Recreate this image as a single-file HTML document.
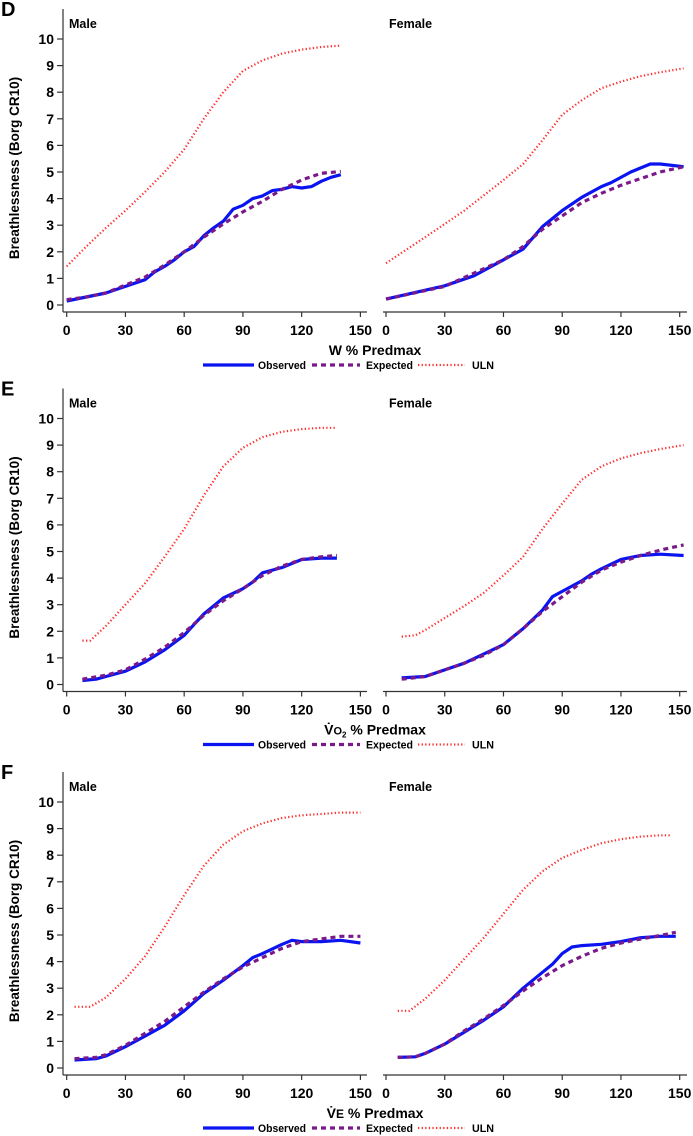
<!DOCTYPE html>
<html><head><meta charset="utf-8">
<style>
html,body{margin:0;padding:0;background:#fff;}
svg{display:block;font-family:"Liberation Sans",Arial,sans-serif;font-weight:bold;}
</style></head>
<body>
<svg id="chart" width="693" height="1136" viewBox="0 0 693 1136"></svg>
<script>
// ---- Data ----
const xTicks = [0, 30, 60, 90, 120, 150];
const yTicks = [0,1,2,3,4,5,6,7,8,9,10];
const panelLetters = ["D", "E", "F"];
const xTitles = ["W % Predmax", "VO2 % Predmax", "VE % Predmax"];
const sexLabels = ["Male", "Female"];

// D Male (W)
const dMaleObsX = [0,10,20,30,40,45,50,55,60,65,70,75,80,85,90,95,100,105,110,115,120,125,130,135,140];
const dMaleObsY = [0.15,0.3,0.45,0.7,0.95,1.25,1.45,1.7,2.0,2.2,2.6,2.9,3.15,3.6,3.75,4.0,4.1,4.3,4.35,4.45,4.4,4.45,4.65,4.8,4.9];
const dMaleExpX = [0,10,20,30,40,50,60,70,80,90,100,110,120,130,140];
const dMaleExpY = [0.2,0.3,0.45,0.75,1.05,1.5,2.0,2.55,3.05,3.5,3.9,4.35,4.7,4.95,5.02];
const dMaleUlnX = [0,10,20,30,40,50,60,70,80,90,100,110,120,130,140];
const dMaleUlnY = [1.45,2.2,2.9,3.55,4.25,5.0,5.85,7.0,8.0,8.8,9.2,9.45,9.6,9.7,9.75];
// D Female
const dFemObsX = [0,30,45,60,70,80,90,100,110,115,125,135,140,152];
const dFemObsY = [0.22,0.72,1.1,1.7,2.1,2.95,3.55,4.05,4.45,4.6,5.0,5.3,5.3,5.2];
const dFemExpX = [0,30,60,70,80,90,100,110,120,130,140,152];
const dFemExpY = [0.22,0.7,1.7,2.2,2.85,3.35,3.85,4.2,4.5,4.75,5.0,5.2];
const dFemUlnX = [0,20,40,60,70,80,90,100,110,120,130,140,152];
const dFemUlnY = [1.57,2.55,3.55,4.7,5.3,6.2,7.15,7.7,8.15,8.4,8.6,8.75,8.9];
// E Male (VO2)
const eMaleObsX = [8,15,20,30,40,50,60,65,70,80,90,95,100,110,120,130,138];
const eMaleObsY = [0.15,0.2,0.3,0.5,0.85,1.3,1.85,2.25,2.65,3.25,3.6,3.85,4.2,4.4,4.7,4.75,4.75];
const eMaleExpX = [8,20,30,40,50,60,70,80,90,100,110,120,130,138];
const eMaleExpY = [0.2,0.35,0.55,0.95,1.4,1.95,2.6,3.15,3.6,4.1,4.45,4.7,4.8,4.85];
const eMaleUlnX = [8,12,20,30,40,50,60,70,80,90,100,110,120,130,138];
const eMaleUlnY = [1.65,1.65,2.2,3.0,3.8,4.8,5.85,7.1,8.2,8.9,9.3,9.5,9.6,9.65,9.65];
// E Female
const eFemObsX = [8,20,30,40,50,60,70,80,85,90,95,100,105,110,120,130,140,152];
const eFemObsY = [0.25,0.3,0.55,0.8,1.15,1.5,2.1,2.8,3.3,3.5,3.7,3.9,4.15,4.35,4.7,4.85,4.9,4.85];
const eFemExpX = [8,20,30,40,50,60,70,80,90,100,110,120,130,140,152];
const eFemExpY = [0.2,0.3,0.55,0.8,1.1,1.5,2.1,2.75,3.3,3.85,4.3,4.6,4.85,5.05,5.25];
const eFemUlnX = [8,15,20,30,40,50,60,70,80,90,100,110,120,130,140,152];
const eFemUlnY = [1.8,1.85,2.05,2.5,2.95,3.45,4.1,4.8,5.85,6.8,7.7,8.2,8.5,8.7,8.85,9.0];
// F Male (VE)
const fMaleObsX = [4,15,20,30,40,50,60,70,80,90,95,100,110,115,120,130,140,150];
const fMaleObsY = [0.3,0.35,0.45,0.8,1.2,1.6,2.15,2.8,3.3,3.85,4.15,4.3,4.65,4.8,4.75,4.75,4.8,4.7];
const fMaleExpX = [4,15,20,30,40,50,60,70,80,90,100,110,120,130,140,150];
const fMaleExpY = [0.35,0.4,0.5,0.85,1.3,1.75,2.3,2.85,3.35,3.8,4.15,4.5,4.75,4.85,4.95,4.95];
const fMaleUlnX = [4,12,20,30,40,50,60,70,80,90,100,110,120,130,140,150];
const fMaleUlnY = [2.3,2.3,2.65,3.35,4.2,5.3,6.5,7.6,8.4,8.9,9.2,9.4,9.5,9.55,9.6,9.6];
// F Female
const fFemObsX = [6,15,20,30,40,50,60,70,80,85,90,95,100,110,120,130,140,148];
const fFemObsY = [0.4,0.42,0.55,0.9,1.35,1.8,2.3,3.0,3.6,3.9,4.3,4.55,4.6,4.65,4.75,4.9,4.95,4.95];
const fFemExpX = [6,15,20,30,40,50,60,70,80,90,100,110,120,130,140,148];
const fFemExpY = [0.4,0.42,0.55,0.9,1.4,1.85,2.35,2.9,3.4,3.85,4.2,4.5,4.7,4.85,4.98,5.1];
const fFemUlnX = [6,12,20,30,40,50,60,70,80,90,100,110,120,130,140,146];
const fFemUlnY = [2.15,2.15,2.6,3.3,4.1,4.9,5.8,6.7,7.4,7.9,8.2,8.45,8.6,8.7,8.75,8.75];

const series = [
  [[dMaleObsX,dMaleObsY,dMaleExpX,dMaleExpY,dMaleUlnX,dMaleUlnY],[dFemObsX,dFemObsY,dFemExpX,dFemExpY,dFemUlnX,dFemUlnY]],
  [[eMaleObsX,eMaleObsY,eMaleExpX,eMaleExpY,eMaleUlnX,eMaleUlnY],[eFemObsX,eFemObsY,eFemExpX,eFemExpY,eFemUlnX,eFemUlnY]],
  [[fMaleObsX,fMaleObsY,fMaleExpX,fMaleExpY,fMaleUlnX,fMaleUlnY],[fFemObsX,fFemObsY,fFemExpX,fFemExpY,fFemUlnX,fFemUlnY]]
];

// ---- Layout ----
const NS = "http://www.w3.org/2000/svg";
const svg = document.getElementById("chart");
const groupY0 = [305, 684.5, 1068];
const unitY = 26.6;
const panelX0 = [66.7, 386];
const unitX = 1.958;
const axisEnds = [[58, 367], [383, 687]];

function mk(tag, attrs, parent) {
  const e = document.createElementNS(NS, tag);
  for (const k in attrs) e.setAttribute(k, attrs[k]);
  (parent || svg).appendChild(e);
  return e;
}
function txt(s, attrs, parent) { const t = mk("text", attrs, parent); t.textContent = s; return t; }

groupY0.forEach((y0, gi) => {
  const g = mk("g", {});
  
  
  const yS = v => y0 - v * unitY;
  const axY = y0 + 7;
  const y10 = yS(10);

  const letter = txt(panelLetters[gi], {x: 1, y: y10 - 23, "font-size": 20}, g);
  
  

  const ya = mk("line", {x1: 63, y1: y10 - 30, x2: 63, y2: axY, stroke: "#333", "stroke-width": 1.2}, g);
  
  
  yTicks.forEach(v => {
    mk("line", {x1: 57, y1: yS(v), x2: 63, y2: yS(v), stroke: "#333", "stroke-width": 1.2}, g);
    const t = txt(String(v), {x: 54, y: yS(v) + 5, "text-anchor": "end", "font-size": 14}, g);
    
    
  });
  const yt = txt("Breathlessness (Borg CR10)", {x: 0, y: 0, "text-anchor": "middle", "font-size": 13.5,
    transform: `translate(19,${(y10 + y0) / 2 - 4}) rotate(-90)`}, g);
  
  

  [0, 1].forEach(pi => {
    const x0 = panelX0[pi];
    const xS = v => x0 + v * unitX;
    const xa = mk("line", {x1: axisEnds[pi][0] + (pi ? 0 : 5), y1: axY, x2: axisEnds[pi][1], y2: axY, stroke: "#333", "stroke-width": 1.2}, g);
    
    
    xTicks.forEach(v => {
      mk("line", {x1: xS(v), y1: axY, x2: xS(v), y2: axY + 5, stroke: "#333", "stroke-width": 1.2}, g);
      const t = txt(String(v), {x: xS(v), y: axY + 23, "text-anchor": "middle", "font-size": 14}, g);
      
      
    });
    const sl = txt(sexLabels[pi], {x: pi ? 389 : 69, y: y10 - 11, "font-size": 12.5}, g);
    
    

    const s = series[gi][pi];
    const pts = (xs, ys) => xs.map((x, i) => xS(x).toFixed(1) + "," + yS(ys[i]).toFixed(1)).join(" ");
    const uln = mk("polyline", {points: pts(s[4], s[5]), fill: "none", stroke: "#ff3030", "stroke-width": 2.2, "stroke-dasharray": "1.3,2.3"}, g);
    
    
    const obs = mk("polyline", {points: pts(s[0], s[1]), fill: "none", stroke: "#0a14f0", "stroke-width": 3.2, "stroke-linejoin": "round"}, g);
    
    
    const exp = mk("polyline", {points: pts(s[2], s[3]), fill: "none", stroke: "#7a1a8a", "stroke-width": 3.2, "stroke-dasharray": "5,4"}, g);
    
    
  });

  const xt = mk("text", {x: 375, y: y0 + 50, "text-anchor": "middle", "font-size": 14}, g);
  
  
  if (gi === 0) xt.textContent = xTitles[0];
  else {
    const sub = gi === 1 ? "O" : "E";
    const a = document.createElementNS(NS, "tspan"); a.textContent = "V\u0307"; xt.appendChild(a);
    const b = document.createElementNS(NS, "tspan");
    b.textContent = sub;
    b.setAttribute("font-size", gi === 1 ? "11" : "12");
    xt.appendChild(b);
    if (gi === 1) { const c = document.createElementNS(NS, "tspan"); c.textContent = "2"; c.setAttribute("font-size", "8"); c.setAttribute("dy", "3"); xt.appendChild(c);
      const d = document.createElementNS(NS, "tspan"); d.textContent = " % Predmax"; d.setAttribute("dy", "-3"); xt.appendChild(d); }
    else { const d = document.createElementNS(NS, "tspan"); d.textContent = " % Predmax"; xt.appendChild(d); }
  }

  const ly = y0 + 60;
  const lg = mk("g", {}, g);
  
  
  mk("line", {x1: 203, y1: ly, x2: 254, y2: ly, stroke: "#0a14f0", "stroke-width": 3.2}, lg);
  txt("Observed", {x: 258, y: ly + 4, "font-size": 11, textLength: 48, lengthAdjust: "spacingAndGlyphs"}, lg);
  mk("line", {x1: 312, y1: ly, x2: 360, y2: ly, stroke: "#7a1a8a", "stroke-width": 3.2, "stroke-dasharray": "5,4"}, lg);
  txt("Expected", {x: 366, y: ly + 4, "font-size": 11, textLength: 47, lengthAdjust: "spacingAndGlyphs"}, lg);
  mk("line", {x1: 418, y1: ly, x2: 465, y2: ly, stroke: "#ff3030", "stroke-width": 2.2, "stroke-dasharray": "1.3,2.3"}, lg);
  txt("ULN", {x: 472, y: ly + 4, "font-size": 11, textLength: 22, lengthAdjust: "spacingAndGlyphs"}, lg);
});
</script>
</body></html>
